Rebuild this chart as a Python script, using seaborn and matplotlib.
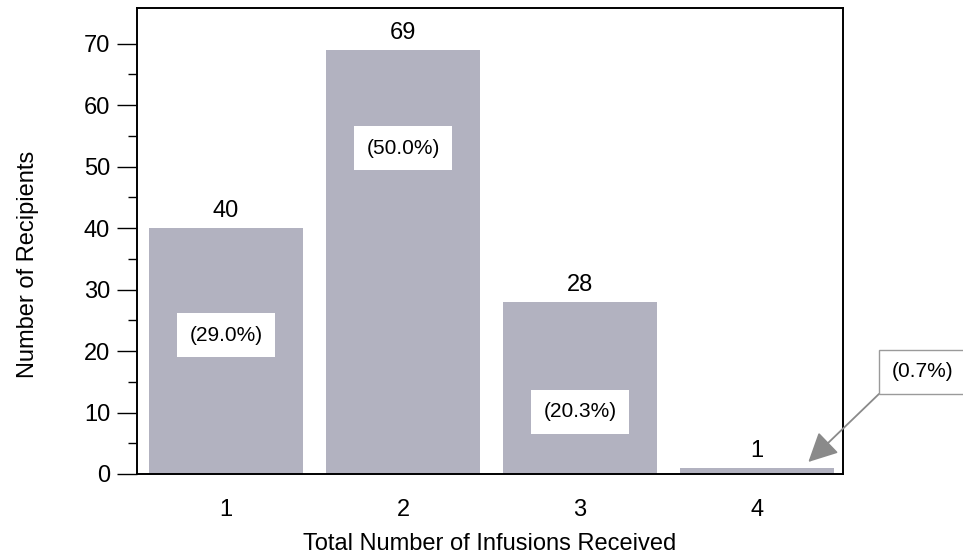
import matplotlib
matplotlib.use("Agg")
import matplotlib.pyplot as plt
import seaborn as sns
import pandas as pd

# ---- data ----
categories = ["1", "2", "3", "4"]
counts = [40, 69, 28, 1]
percent_labels = ["(29.0%)", "(50.0%)", "(20.3%)", "(0.7%)"]
percent_label_y = [22.6, 53.0, 10.1]   # in-bar label heights (data units)
x_label = "Total Number of Infusions Received"
y_label = "Number of Recipients"
y_major = [0, 10, 20, 30, 40, 50, 60, 70]
y_minor = [5, 15, 25, 35, 45, 55, 65]

sns.set_theme(style="white")
plt.rcParams["font.family"] = ["Liberation Sans", "DejaVu Sans"]

df = pd.DataFrame({"cat": categories, "n": counts})

fig = plt.figure(figsize=(9.63, 5.6), dpi=100)
ax = fig.add_axes([137 / 963, 1 - 474 / 560, (843 - 137) / 963, (474 - 8) / 560])

bar_color = "#b2b2c0"
sns.barplot(data=df, x="cat", y="n", order=categories, color=bar_color,
            saturation=1, width=0.87, ax=ax, edgecolor="none")

ax.set_xlim(-0.503, 3.486)
ax.set_ylim(0, 75.8)

# spines
for s in ax.spines.values():
    s.set_visible(True)
    s.set_color("black")
    s.set_linewidth(1.4)

# ticks
ax.set_yticks(y_major)
ax.set_yticks(y_minor, minor=True)
ax.tick_params(axis="y", which="major", direction="out", length=14.4, width=1.0,
               color="black", labelsize=17, labelcolor="black", pad=5, left=True)
ax.tick_params(axis="y", which="minor", direction="out", length=6.7, width=1.0,
               color="black", left=True)
ax.tick_params(axis="x", which="both", length=0, labelsize=17, labelcolor="black", pad=18)

ax.set_xlabel(x_label, fontsize=17, color="black")
ax.set_ylabel(y_label, fontsize=17, color="black")
ax.xaxis.set_label_coords(0.5, -0.127)
ax.yaxis.set_label_coords(-0.139, 0.4506)

# value labels above bars
for i, v in enumerate(counts):
    ax.annotate(str(v), (i, v), xytext=(0, 8), textcoords="offset points",
                ha="center", va="baseline", fontsize=17, color="black")

# percent labels inside bars
for i, (lab, yy) in enumerate(zip(percent_labels[:3], percent_label_y)):
    ax.text(i, yy, lab, ha="center", va="center", fontsize=15, color="black",
            bbox=dict(boxstyle="square,pad=0.6", facecolor="white", edgecolor="none"))

# callout for last bar
ax.annotate(percent_labels[3], xy=(3.29, 1.95), xycoords="data",
            xytext=(1.113, 0.219), textcoords="axes fraction",
            ha="center", va="center", fontsize=15, color="black",
            bbox=dict(boxstyle="square,pad=0.6", facecolor="white",
                      edgecolor="#9a9a9a", linewidth=1.0),
            arrowprops=dict(arrowstyle="-|>,head_length=1.2,head_width=0.6",
                            color="#8a8a8a", lw=1.3, relpos=(0, 0),
                            shrinkA=0, shrinkB=0),
            annotation_clip=False)

fig.savefig("out.png", dpi=100)
